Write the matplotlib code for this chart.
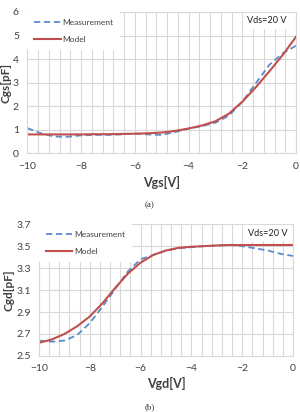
"""
Two capacitance plots (Cgs vs Vgs, Cgd vs Vgd), measurement against model.
"""

import matplotlib
matplotlib.use("Agg")
import matplotlib.pyplot as plt
from matplotlib.ticker import MultipleLocator

plt.rcParams['font.family'] = ['Lato', 'DejaVu Sans']

BLUE = "#5b8ccb"
RED = "#c0504d"
GRID = "#d9d9d9"
TEXT = "#404040"

# (a) Cgs vs Vgs
vgs = [-10, -9.5, -9, -8.5, -8, -7.5, -7, -6.5, -6, -5.5, -5, -4.5,
       -4, -3.5, -3, -2.5, -2, -1.5, -1, -0.5, 0]
cgs_meas = [1.07, 0.85, 0.71, 0.70, 0.76, 0.78, 0.78, 0.80, 0.84, 0.80, 0.78, 0.90,
            1.05, 1.15, 1.30, 1.60, 2.19, 2.97, 3.75, 4.24, 4.57]
cgs_model = [0.80, 0.80, 0.80, 0.80, 0.80, 0.81, 0.81, 0.82, 0.83, 0.85, 0.88, 0.95,
             1.05, 1.18, 1.36, 1.68, 2.19, 2.80, 3.47, 4.17, 4.95]
cgs_ticks = [0, 1, 2, 3, 4, 5, 6]

# (b) Cgd vs Vgd
vgd = [-10, -9.5, -9, -8.5, -8, -7.5, -7, -6.5, -6, -5.5, -5, -4.5,
       -4, -3.5, -3, -2.5, -2, -1.5, -1, -0.5, 0]
cgd_meas = [2.64, 2.63, 2.64, 2.69, 2.80, 2.95, 3.11, 3.27, 3.38, 3.42, 3.46, 3.48,
            3.49, 3.50, 3.505, 3.51, 3.50, 3.48, 3.46, 3.43, 3.41]
cgd_model = [2.62, 2.65, 2.70, 2.77, 2.86, 2.98, 3.12, 3.25, 3.35, 3.42, 3.46, 3.485,
             3.494, 3.50, 3.506, 3.51, 3.51, 3.51, 3.51, 3.51, 3.51]
cgd_ticks = [2.5, 2.7, 2.9, 3.1, 3.3, 3.5, 3.7]


def style_axes(ax, yticks, fmt):
    ax.set_xlim(-10, 0)
    ax.set_ylim(yticks[0], yticks[-1])
    ax.xaxis.set_major_locator(MultipleLocator(2))
    ax.xaxis.set_minor_locator(MultipleLocator(0.4))
    ax.set_yticks(yticks)
    ax.yaxis.set_major_formatter(fmt)
    ax.grid(True, which="minor", axis="x", color=GRID, lw=0.8)
    ax.grid(True, which="major", axis="both", color=GRID, lw=0.8)
    ax.set_axisbelow(True)
    ax.tick_params(which="both", length=0, labelsize=7.5, colors=TEXT)
    ax.tick_params(axis="x", pad=6)
    ax.tick_params(axis="y", pad=6)
    for s in ax.spines.values():
        s.set_color(GRID)
        s.set_linewidth(0.8)


def draw(ax, x, meas, model, xlabel, ylabel, vds_pos, ylab_x):
    ax.plot(x, meas, color=BLUE, lw=1.3, ls=(0, (3.5, 2)), label="Measurement")
    ax.plot(x, model, color=RED, lw=1.5, label="Model")
    leg = ax.legend(loc="upper left", bbox_to_anchor=(0, 1), borderaxespad=0,
                    fontsize=6.0, handlelength=3.2, handletextpad=0.25,
                    labelspacing=1.25, borderpad=0.8, frameon=True, fancybox=False,
                    framealpha=1, facecolor="white", edgecolor="none")
    for t in leg.get_texts():
        t.set_color(TEXT)
    ax.text(vds_pos[0], vds_pos[1], "Vds=20 V", transform=ax.transAxes, ha="right",
            va="center", fontsize=6.6, color="#222222",
            bbox=dict(facecolor="white", edgecolor="none", pad=2.5), zorder=6)
    ax.set_xlabel(xlabel, fontsize=9, fontweight="bold", color=TEXT)
    ax.set_ylabel(ylabel, fontsize=8.5, fontweight="bold", color=TEXT)
    ax.xaxis.set_label_coords(0.5, -0.16)
    ax.yaxis.set_label_coords(ylab_x, 0.5)


fig = plt.figure(figsize=(3.0, 4.12), dpi=100)

ax1 = fig.add_axes([0.091, 0.628, 0.896, 0.343])
style_axes(ax1, cgs_ticks, "{x:.0f}")
draw(ax1, vgs, cgs_meas, cgs_model, "Vgs[V]", "Cgs[pF]", (0.966, 0.936), -0.057)

ax2 = fig.add_axes([0.13, 0.136, 0.847, 0.320])
style_axes(ax2, cgd_ticks, "{x:.1f}")
draw(ax2, vgd, cgd_meas, cgd_model, "Vgd[V]", "Cgd[pF]", (0.976, 0.932), -0.096)

fig.text(0.5, 1 - 205 / 412, "(a)", ha="center", va="center",
         family="Liberation Serif", fontsize=6.5, color="#333333")
fig.text(0.5, 1 - 407 / 412, "(b)", ha="center", va="center",
         family="Liberation Serif", fontsize=6.5, color="#333333")

fig.savefig("out.png", dpi=100)
